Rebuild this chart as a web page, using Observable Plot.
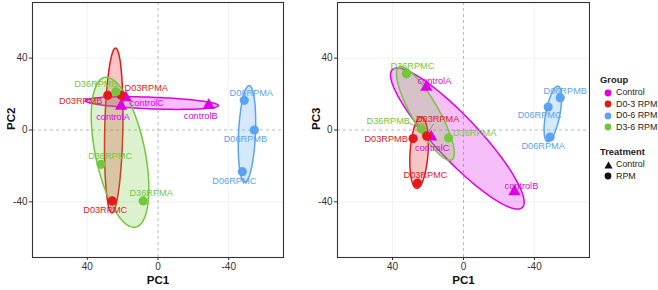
<!DOCTYPE html>
<html>
<head>
<meta charset="utf-8">
<script src="https://cdn.jsdelivr.net/npm/d3@7"></script>
<script src="https://cdn.jsdelivr.net/npm/@observablehq/plot@0.6"></script>
<style>
  body { margin: 0; background: #fff; font-family: "Liberation Sans", Arial, Helvetica, sans-serif; }
  #wrap { position: relative; width: 658px; height: 290px; overflow: hidden; }
  .panel { position: absolute; top: 0; }
  .panel svg { font-family: "Liberation Sans", Arial, Helvetica, sans-serif; }
  #legend { position: absolute; left: 600px; top: 73px; font-size: 8.9px; color: #222; }
  #legend .title { font-weight: bold; font-size: 9.4px; height: 14px; line-height: 14px; }
  #legend .item { height: 11.5px; line-height: 11.5px; display: flex; align-items: center; }
  #legend .sym { width: 16px; display: inline-flex; justify-content: center; }
  #legend .gap { height: 12px; }
</style>
</head>
<body>
<div id="wrap">
  <div class="panel" id="p1" style="left:0px"></div>
  <div class="panel" id="p2" style="left:304px"></div>
  <div id="legend"></div>
</div>
<script>
// Sample scores on the first three principal components
const samples    = ["controlA", "controlB", "controlC", "D03RPMA", "D03RPMB", "D03RPMC",
                    "D06RPMA", "D06RPMB", "D06RPMC", "D36RPMA", "D36RPMB", "D36RPMC"];
const groups     = ["Control", "Control", "Control", "D0-3 RPM", "D0-3 RPM", "D0-3 RPM",
                    "D0-6 RPM", "D0-6 RPM", "D0-6 RPM", "D3-6 RPM", "D3-6 RPM", "D3-6 RPM"];
const treatments = ["Control", "Control", "Control", "RPM", "RPM", "RPM",
                    "RPM", "RPM", "RPM", "RPM", "RPM", "RPM"];
const pc1 = [20.9, -28.7, 18.2, 20.8, 28.4, 25.9, -48.8, -54.5, -47.7, 8.4, 23.8, 32.2];
const pc2 = [13.3, 13.7, 18.0, 19.4, 19.3, -39.5, 16.5, 0.0, -23.2, -39.5, 21.3, -19.1];
const pc3 = [23.9, -34.3, -3.9, -3.3, -4.8, -29.6, -3.9, 18.0, 12.8, -4.4, 0.7, 31.3];

const groupNames = ["Control", "D0-3 RPM", "D0-6 RPM", "D3-6 RPM"];
const groupColors = ["#e000e6", "#e4191c", "#5aa2f2", "#72c73c"];
const treatmentNames = ["Control", "RPM"];
const axisTicks = [40, 0, -40];

// Label placement (pixel nudges from each point), per panel
const nudgePC2 = {
  controlA: [-8, 11], controlB: [-8, 11], controlC: [21, 5],
  D03RPMA: [25, -7], D03RPMB: [-27, 6], D03RPMC: [-7, 9],
  D06RPMA: [7, -7], D06RPMB: [-9, 9], D06RPMC: [-8, 9],
  D36RPMA: [8, -8], D36RPMB: [-20, -8], D36RPMC: [9, -8]
};
const nudgePC3 = {
  controlA: [8, -6], controlB: [7, -6], controlC: [1, 11],
  D03RPMA: [11, -17], D03RPMB: [-27, 0], D03RPMC: [8, -8],
  D06RPMA: [-7, 9], D06RPMB: [5, -7], D06RPMC: [-8.5, 8],
  D36RPMA: [26, -5], D36RPMB: [-33, -8], D36RPMC: [6, -8]
};
// leader lines from displaced labels back to their points (pixel offsets)
const leadersPC3 = {
  D36RPMB: [[-13, -6], [-4, -2]],
  D03RPMA: [[7, -12], [1.5, -3.5]]
};

const domainX = [71, -71];
const domainY = [-71, 71];

// Covariance ellipse around each group's scores
function ellipse(rows, k) {
  const n = rows.length;
  const mx = d3.mean(rows, d => d.x), my = d3.mean(rows, d => d.y);
  let sxx = 0, syy = 0, sxy = 0;
  for (const d of rows) {
    sxx += (d.x - mx) ** 2; syy += (d.y - my) ** 2; sxy += (d.x - mx) * (d.y - my);
  }
  sxx /= n - 1; syy /= n - 1; sxy /= n - 1;
  const a = Math.sqrt(sxx), b = sxy / a, c = Math.sqrt(Math.max(syy - b * b, 0));
  return d3.range(120).map(i => {
    const t = (i / 120) * 2 * Math.PI;
    return {group: rows[0].group, x: mx + k * a * Math.cos(t), y: my + k * (b * Math.cos(t) + c * Math.sin(t))};
  });
}

function panel(yValues, yLabel, nudge, leaders, opts) {
  const rows = samples.map((s, i) => ({
    sample: s, group: groups[i], treatment: treatments[i], x: pc1[i], y: yValues[i]
  }));
  const ells = groupNames.flatMap(g => ellipse(rows.filter(r => r.group === g), 1.35));
  const colorOf = g => groupColors[groupNames.indexOf(g)];

  const W = opts.width, H = 290;
  const mL = opts.marginLeft, mR = opts.marginRight, mT = 2, mB = 33;
  const pxX = (W - mL - mR) / (domainX[0] - domainX[1]); // px per unit (x reversed)
  const pxY = (H - mT - mB) / (domainY[1] - domainY[0]);

  const labelMarks = rows.map(r => {
    const [dx, dy] = nudge[r.sample];
    return Plot.text([r], {x: "x", y: "y", text: "sample", fill: colorOf(r.group),
      dx, dy, fontSize: 9.2});
  });
  const leaderRows = Object.entries(leaders).map(([s, [[x1, y1], [x2, y2]]]) => {
    const r = rows.find(d => d.sample === s);
    return {x1: r.x - x1 / pxX, y1: r.y - y1 / pxY, x2: r.x - x2 / pxX, y2: r.y - y2 / pxY};
  });

  const axisStyle = {tickSize: 3, tickPadding: 2, stroke: "#333", fill: "#333",
    fontSize: 10, tickFormat: d => String(d), labelAnchor: "center", labelArrow: "none"};

  return Plot.plot({
    width: W, height: H,
    marginLeft: mL, marginRight: mR, marginTop: mT, marginBottom: mB,
    style: {background: "transparent", fontFamily: "Liberation Sans, Arial, sans-serif"},
    x: {domain: domainX},
    y: {domain: domainY},
    color: {domain: groupNames, range: groupColors},
    symbol: {domain: treatmentNames, range: ["triangle", "circle"]},
    marks: [
      Plot.ruleX(axisTicks.filter(t => t !== 0), {stroke: "#ececec", strokeWidth: 0.7}),
      Plot.ruleY(axisTicks.filter(t => t !== 0), {stroke: "#ececec", strokeWidth: 0.7}),
      Plot.ruleX([0], {stroke: "#a8a8a8", strokeWidth: 0.8, strokeDasharray: "3,3"}),
      Plot.ruleY([0], {stroke: "#a8a8a8", strokeWidth: 0.8, strokeDasharray: "3,3"}),
      Plot.line(ells, {x: "x", y: "y", z: "group", fill: "group", fillOpacity: 0.25,
        stroke: "group", strokeWidth: 1.5, curve: "linear-closed"}),
      Plot.link(leaderRows, {x1: "x1", y1: "y1", x2: "x2", y2: "y2", stroke: "#666", strokeWidth: 0.6}),
      Plot.dot(rows, {x: "x", y: "y", fill: "group", symbol: "treatment", r: 4.6, stroke: "none"}),
      ...labelMarks,
      Plot.axisX(axisTicks, {...axisStyle, label: null}),
      Plot.axisY(axisTicks, {...axisStyle, label: null}),
      Plot.text([yLabel], {frameAnchor: "left", dx: -21, rotate: -90, fontSize: 11.5,
        fontWeight: "bold", fill: "#111"}),
      Plot.text(["PC1"], {frameAnchor: "bottom", dy: 26, fontSize: 11.5,
        fontWeight: "bold", fill: "#111"}),
      Plot.frame({stroke: "#333", strokeWidth: 1.1})
    ]
  });
}

document.getElementById("p1").append(
  panel(pc2, "PC2", nudgePC2, {}, {width: 300, marginLeft: 32, marginRight: 17}));
document.getElementById("p2").append(
  panel(pc3, "PC3", nudgePC3, leadersPC3, {width: 286, marginLeft: 33, marginRight: 1}));

// Legend: colour by group, shape by treatment
const legend = document.getElementById("legend");
const addTitle = t => { const el = document.createElement("div"); el.className = "title"; el.textContent = t; legend.append(el); };
const addItem = (svg, t) => {
  const el = document.createElement("div"); el.className = "item";
  el.innerHTML = `<span class="sym">${svg}</span><span>${t}</span>`; legend.append(el);
};
addTitle("Group");
groupNames.forEach((g, i) => addItem(
  `<svg width="8" height="8"><circle cx="4" cy="4" r="3.4" fill="${groupColors[i]}"/></svg>`, g));
const gap = document.createElement("div"); gap.className = "gap"; legend.append(gap);
addTitle("Treatment");
addItem(`<svg width="9" height="8"><path d="M4.5 0.5L8.6 7.6H0.4Z" fill="#111"/></svg>`, treatmentNames[0]);
addItem(`<svg width="8" height="8"><circle cx="4" cy="4" r="3.4" fill="#111"/></svg>`, treatmentNames[1]);
</script>
</body>
</html>
